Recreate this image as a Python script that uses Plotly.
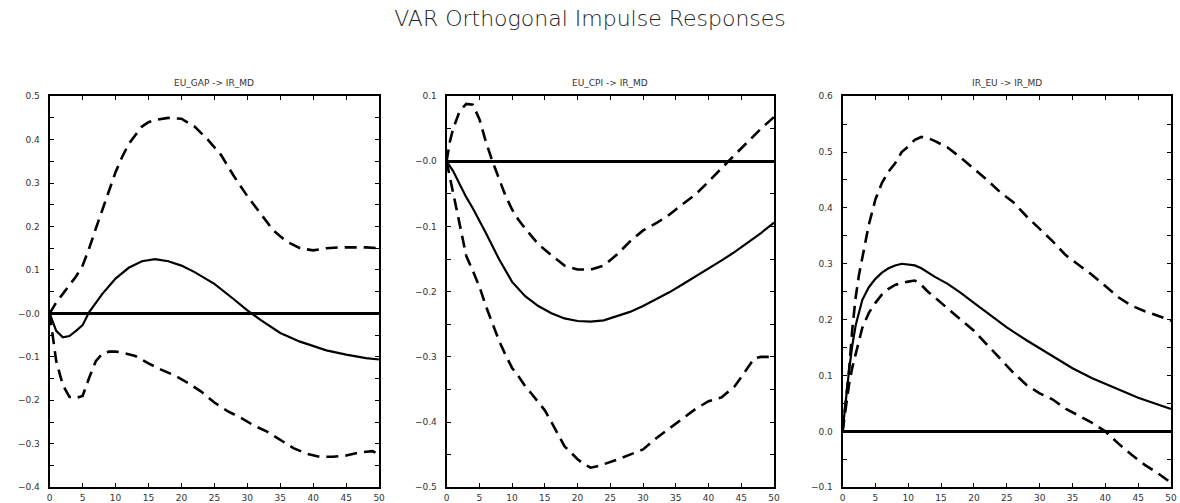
import plotly.graph_objects as go

# ---------------- data ----------------
titles = ["EU_GAP -> IR_MD", "EU_CPI -> IR_MD", "IR_EU -> IR_MD"]

gap_x_mid = [0, 1, 2, 3, 4, 5, 6, 8, 10, 12, 14, 16, 18, 20, 22, 25, 28, 30, 32, 35, 38, 40, 42, 45, 48, 50]
gap_mid = [0, -0.04, -0.055, -0.052, -0.04, -0.027, 0.003, 0.045, 0.08, 0.105, 0.12, 0.125, 0.12, 0.11, 0.095,
           0.068, 0.032, 0.007, -0.015, -0.045, -0.065, -0.075, -0.085, -0.095, -0.103, -0.106]
gap_x_up = [0, 1, 2, 3, 4, 5, 6, 7, 8, 9, 10, 11, 12, 13, 14, 15, 16, 18, 20, 22, 24, 26, 28, 30, 32, 34, 36,
            38, 40, 42, 44, 46, 48, 50]
gap_up = [0, 0.025, 0.045, 0.065, 0.085, 0.11, 0.15, 0.195, 0.24, 0.285, 0.325, 0.36, 0.39, 0.41, 0.43, 0.44,
          0.445, 0.45, 0.448, 0.43, 0.40, 0.365, 0.315, 0.27, 0.23, 0.19, 0.165, 0.15, 0.145, 0.15, 0.152,
          0.152, 0.152, 0.15]
gap_x_lo = [0, 0.5, 1, 2, 3, 4, 5, 6, 7, 8, 9, 10, 11, 13, 15, 17, 19, 21, 23, 25, 27, 29, 31, 33, 35, 37, 39,
            41, 43, 45, 47, 49, 50]
gap_lo = [0, -0.05, -0.11, -0.165, -0.192, -0.195, -0.19, -0.148, -0.11, -0.093, -0.088, -0.088, -0.09,
          -0.098, -0.115, -0.13, -0.143, -0.16, -0.18, -0.205, -0.225, -0.24, -0.258, -0.272, -0.29, -0.31,
          -0.323, -0.33, -0.33, -0.327, -0.32, -0.317, -0.325]

cpi_x_mid = [0, 1, 2, 3, 4, 5, 6, 8, 10, 12, 14, 16, 18, 20, 22, 24, 26, 28, 30, 32, 34, 36, 38, 40, 42, 44,
             46, 48, 50]
cpi_mid = [0, -0.015, -0.035, -0.055, -0.072, -0.09, -0.11, -0.15, -0.185, -0.207, -0.222, -0.233, -0.241,
           -0.245, -0.246, -0.244, -0.238, -0.231, -0.222, -0.212, -0.201, -0.189, -0.177, -0.164, -0.152,
           -0.139, -0.125, -0.11, -0.094]
cpi_x_up = [0, 0.5, 1, 1.5, 2, 3, 4, 5, 6, 7, 8, 9, 10, 11, 12, 14, 16, 18, 20, 22, 24, 26, 28, 30, 32, 34,
            36, 38, 40, 42, 44, 46, 48, 50]
cpi_up = [0, 0.03, 0.05, 0.065, 0.077, 0.088, 0.087, 0.065, 0.03, 0.0, -0.027, -0.053, -0.074, -0.09,
          -0.103, -0.127, -0.144, -0.16, -0.166, -0.166, -0.16, -0.143, -0.123, -0.106, -0.095, -0.082,
          -0.066, -0.051, -0.031, -0.01, 0.01, 0.03, 0.05, 0.068]
cpi_x_lo = [0, 0.5, 1, 2, 3, 4, 5, 6, 7, 8, 9, 10, 11, 12, 13, 14, 15, 16, 17, 18, 19, 20, 21, 22, 23, 24,
            26, 28, 30, 32, 34, 36, 38, 40, 42, 44, 45, 46, 47, 48, 50]
cpi_lo = [0, -0.025, -0.05, -0.1, -0.145, -0.168, -0.192, -0.222, -0.25, -0.275, -0.297, -0.317, -0.33,
          -0.345, -0.357, -0.37, -0.382, -0.4, -0.418, -0.437, -0.447, -0.457, -0.465, -0.47, -0.468,
          -0.465, -0.458, -0.45, -0.442, -0.425, -0.41, -0.395, -0.38, -0.368, -0.362, -0.345, -0.33,
          -0.315, -0.302, -0.30, -0.30]

ir_x_mid = [0, 0.5, 1, 1.5, 2, 3, 4, 5, 6, 7, 8, 9, 10, 11, 12, 14, 16, 18, 20, 22, 25, 28, 30, 32, 35, 38,
            40, 42, 45, 48, 50]
ir_mid = [0, 0.06, 0.11, 0.155, 0.19, 0.235, 0.258, 0.273, 0.284, 0.292, 0.297, 0.3, 0.299, 0.297, 0.292,
          0.277, 0.264, 0.248, 0.23, 0.213, 0.186, 0.163, 0.149, 0.135, 0.113, 0.095, 0.085, 0.075, 0.06,
          0.048, 0.04]
ir_x_up = [0, 0.5, 1, 1.5, 2, 2.5, 3, 4, 5, 6, 7, 8, 9, 10, 11, 12, 13, 14, 16, 18, 20, 22, 24, 26, 28, 30,
           32, 34, 36, 38, 40, 42, 44, 46, 48, 50]
ir_up = [0, 0.06, 0.11, 0.185, 0.24, 0.28, 0.31, 0.37, 0.415, 0.445, 0.465, 0.48, 0.5, 0.51, 0.522, 0.527,
         0.525, 0.52, 0.508, 0.49, 0.47, 0.45, 0.428, 0.41, 0.385, 0.362, 0.34, 0.315, 0.298, 0.28, 0.26,
         0.24, 0.225, 0.215, 0.207, 0.198]
ir_x_lo = [0, 0.5, 1, 1.5, 2, 3, 4, 5, 6, 7, 8, 9, 10, 11, 12, 13, 14, 16, 18, 20, 22, 24, 26, 28, 30, 32,
           34, 36, 38, 40, 42, 44, 46, 48, 50]
ir_lo = [0, 0.04, 0.085, 0.115, 0.14, 0.185, 0.212, 0.23, 0.245, 0.255, 0.262, 0.266, 0.268, 0.27, 0.262,
         0.25, 0.24, 0.22, 0.2, 0.18, 0.155, 0.13, 0.105, 0.083, 0.068, 0.057, 0.04, 0.028, 0.015, 0.0,
         -0.022, -0.042, -0.06, -0.075, -0.092]

y_ranges = [(-0.4, 0.5), (-0.5, 0.1), (-0.1, 0.6)]
y_ticklabels = [
    ["−0.4", "−0.3", "−0.2", "−0.1", "−0.0", "0.1", "0.2", "0.3", "0.4", "0.5"],
    ["−0.5", "−0.4", "−0.3", "−0.2", "−0.1", "−0.0", "0.1"],
    ["−0.1", "0.0", "0.1", "0.2", "0.3", "0.4", "0.5", "0.6"],
]
x_tickvals = [0, 5, 10, 15, 20, 25, 30, 35, 40, 45, 50]

panels = [
    (gap_x_mid, gap_mid, gap_x_up, gap_up, gap_x_lo, gap_lo),
    (cpi_x_mid, cpi_mid, cpi_x_up, cpi_up, cpi_x_lo, cpi_lo),
    (ir_x_mid, ir_mid, ir_x_up, ir_up, ir_x_lo, ir_lo),
]

# ---------------- layout geometry ----------------
W, H = 1180, 503
x_domains = [(47 / W, 379 / W), (447 / W, 777 / W), (846 / W, 1177 / W)]
y_domain = (1 - 492 / H, 1 - 93 / H)

fig = go.Figure()
tick_font = dict(family="DejaVu Sans", size=9, color="#333333")

for i, (xm, ym, xu, yu, xl, yl) in enumerate(panels):
    n = "" if i == 0 else str(i + 1)
    xa, ya = "x" + n, "y" + n
    dash_style = dict(color="black", width=2.6, dash="12px,7px")
    fig.add_trace(go.Scatter(x=xu, y=yu, mode="lines", line=dash_style, xaxis=xa, yaxis=ya, showlegend=False))
    fig.add_trace(go.Scatter(x=xl, y=yl, mode="lines", line=dash_style, xaxis=xa, yaxis=ya, showlegend=False))
    fig.add_trace(go.Scatter(x=xm, y=ym, mode="lines", line=dict(color="black", width=2.2),
                             xaxis=xa, yaxis=ya, showlegend=False))

    lo, hi = y_ranges[i]
    nsteps = int(round((hi - lo) / 0.05))
    yvals = [round(lo + k * 0.05, 4) for k in range(nsteps + 1)]
    ytext = []
    j = 0
    for k in range(nsteps + 1):
        if k % 2 == 0:
            ytext.append(y_ticklabels[i][j])
            j += 1
        else:
            ytext.append("")

    fig.update_layout(**{
        ("xaxis" + n): dict(
            domain=list(x_domains[i]), anchor=ya, range=[0, 50],
            tickvals=x_tickvals, ticktext=[str(v) for v in x_tickvals],
            ticks="inside", ticklen=4, tickwidth=1, tickcolor="black",
            showline=True, linecolor="black", linewidth=2, mirror="allticks",
            showgrid=False, zeroline=False, tickfont=tick_font, ticklabelstandoff=1,
        ),
        ("yaxis" + n): dict(
            domain=list(y_domain), anchor=xa, range=[lo, hi],
            tickvals=yvals, ticktext=ytext,
            ticks="inside", ticklen=4, tickwidth=1, tickcolor="black",
            showline=True, linecolor="black", linewidth=2, mirror="allticks",
            showgrid=False, zeroline=True, zerolinecolor="black", zerolinewidth=2.5,
            tickfont=tick_font, ticklabelstandoff=6,
        ),
    })
    fig.add_annotation(
        text=titles[i], xref="paper", yref="paper",
        x=(x_domains[i][0] + x_domains[i][1]) / 2, y=1 - 80 / H,
        xanchor="center", yanchor="middle", showarrow=False,
        font=dict(family="DejaVu Sans", size=9, color="#333333"),
    )

fig.update_layout(
    width=W, height=H,
    margin=dict(l=0, r=0, t=0, b=0),
    paper_bgcolor="white", plot_bgcolor="white",
    title=dict(text="VAR Orthogonal Impulse Responses", x=0.5, xanchor="center",
               y=1 - 18 / H, yanchor="middle",
               font=dict(family="DejaVu Sans", size=22, color="#222222", weight=200)),
)

fig.write_html("out.html")
